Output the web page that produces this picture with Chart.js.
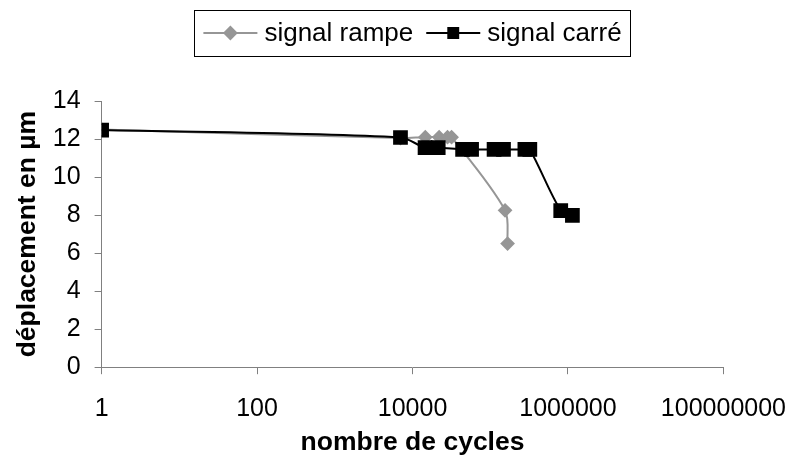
<!DOCTYPE html>
<html>
<head>
<meta charset="utf-8">
<script src="https://cdn.jsdelivr.net/npm/chart.js@4/dist/chart.umd.min.js"></script>
<style>
  body { margin: 0; background: #fff; }
</style>
</head>
<body>
<canvas id="myChart" width="788" height="466"></canvas>
<script>
// valeurs
const rampeCycles = [1, 7000, 14600, 22000, 28200, 31800, 155000, 167000];
const rampeDepl   = [12.5, 12.05, 12.1, 12.1, 12.1, 12.1, 8.25, 6.5];

const carreCycles = [1, 7000, 14500, 21400, 44100, 57500, 112000, 148000, 279000, 323000, 807000, 1140000];
const carreDepl   = [12.47, 12.08, 11.55, 11.55, 11.45, 11.45, 11.45, 11.45, 11.45, 11.45, 8.24, 7.98];

const xTicks = [1, 100, 10000, 1000000, 100000000];
const yTicks = [0, 2, 4, 6, 8, 10, 12, 14];

const FONT = '"Liberation Sans", Arial, sans-serif';
const GRIS = '#969696';

const toPoints = (xs, ys) => xs.map((x, i) => ({ x: x, y: ys[i] }));

/* légende encadrée : trait + marqueur + texte */
const legendBox = {
    id: 'legendBox',
    afterDraw(chart) {
        const ctx = chart.ctx;
        const area = chart.chartArea;
        const items = chart.data.datasets;
        const sym = 54, gap = 7, sep = 13, pad = 9;
        const top = 10, h = 46, mid = top + h / 2;

        ctx.save();
        ctx.font = '26px ' + FONT;
        let total = pad * 2;
        items.forEach((ds, i) => {
            total += sym + gap + ctx.measureText(ds.label).width;
            if (i < items.length - 1) total += sep;
        });
        let x = (area.left + area.right) / 2 - total / 2;

        ctx.strokeStyle = '#000';
        ctx.lineWidth = 1;
        ctx.strokeRect(Math.round(x) + 0.5, top + 0.5, Math.round(total), h);

        x += pad;
        items.forEach(ds => {
            ctx.strokeStyle = ds.borderColor;
            ctx.lineWidth = 2;
            ctx.beginPath();
            ctx.moveTo(x, mid);
            ctx.lineTo(x + sym, mid);
            ctx.stroke();

            ctx.fillStyle = ds.pointBackgroundColor;
            ctx.strokeStyle = ds.pointBackgroundColor;
            Chart.helpers.drawPoint(ctx, {
                pointStyle: ds.pointStyle,
                radius: ds.pointStyle === 'rect' ? 7 : 6,
                rotation: 0,
                borderWidth: 1
            }, x + sym / 2, mid);

            x += sym + gap;
            ctx.fillStyle = '#000';
            ctx.textBaseline = 'middle';
            ctx.textAlign = 'left';
            ctx.fillText(ds.label, x, mid + 1);
            x += ctx.measureText(ds.label).width + sep;
        });
        ctx.restore();
    }
};

let ctx = document.getElementById('myChart').getContext('2d');
let myChart = new Chart(ctx, {
    type: 'line',
    data: {
        datasets: [{
            label: 'signal rampe',
            data: toPoints(rampeCycles, rampeDepl),
            order: 2, // dessiné sous la série noire
            borderColor: GRIS,
            backgroundColor: GRIS,
            pointBackgroundColor: GRIS,
            pointBorderColor: GRIS,
            pointStyle: 'rectRot',
            pointRadius: 6,
            borderWidth: 2,
            tension: 0.3
        }, {
            label: 'signal carré',
            data: toPoints(carreCycles, carreDepl),
            order: 1,
            borderColor: '#000',
            backgroundColor: '#000',
            pointBackgroundColor: '#000',
            pointBorderColor: '#000',
            pointStyle: 'rect',
            pointRadius: 9,
            borderWidth: 2,
            tension: 0.3
        }]
    },
    options: {
        responsive: false,
        animation: false,
        layout: { padding: { top: 101, right: 0, bottom: 7, left: 0 } },
        plugins: {
            legend: { display: false },
            tooltip: { enabled: false }
        },
        scales: {
            x: {
                type: 'logarithmic',
                min: xTicks[0],
                max: xTicks[xTicks.length - 1],
                afterBuildTicks: axis => { axis.ticks = xTicks.map(v => ({ value: v })); },
                // le padding des ticks ne doit pas pousser la marge de droite
                afterFit: axis => { axis.paddingRight = Math.max(axis.paddingRight - 18, 0); },
                ticks: {
                    color: '#000',
                    font: { family: FONT, size: 25 },
                    padding: 20,
                    maxRotation: 0,
                    autoSkip: false,
                    callback: v => String(v)
                },
                grid: { drawOnChartArea: false, drawTicks: true, tickLength: 7, color: '#808080' },
                border: { color: '#808080', width: 1 },
                title: {
                    display: true,
                    text: 'nombre de cycles',
                    color: '#000',
                    font: { family: FONT, size: 26.5, weight: 'bold' },
                    padding: { top: -17, bottom: 0 }
                }
            },
            y: {
                min: yTicks[0],
                max: yTicks[yTicks.length - 1],
                afterBuildTicks: axis => { axis.ticks = yTicks.map(v => ({ value: v })); },
                ticks: {
                    color: '#000',
                    font: { family: FONT, size: 25 },
                    padding: 14
                },
                grid: { drawOnChartArea: false, drawTicks: true, tickLength: 7, color: '#808080' },
                border: { color: '#808080', width: 1 },
                title: {
                    display: true,
                    text: 'déplacement en µm',
                    color: '#000',
                    font: { family: FONT, size: 26.5, weight: 'bold' },
                    padding: { top: 12, bottom: -5 }
                }
            }
        }
    },
    plugins: [legendBox]
});
</script>
</body>
</html>
